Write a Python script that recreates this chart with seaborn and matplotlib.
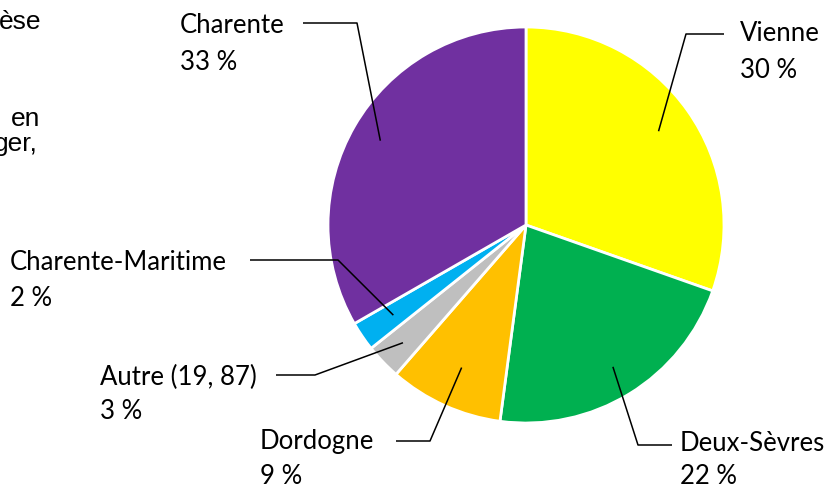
import numpy as np
import matplotlib
matplotlib.use("Agg")
import matplotlib.pyplot as plt
import seaborn as sns

# ---- data ----
regions = ["Vienne", "Deux-Sèvres", "Dordogne", "Autre (19, 87)", "Charente-Maritime", "Charente"]
shares = [30.4, 21.7, 9.3, 2.9, 2.4, 33.3]
pct_labels = ["30 %", "22 %", "9 %", "3 %", "2 %", "33 %"]
colors = ["#FFFF00", "#00B050", "#FFC000", "#BFBFBF", "#00B0F0", "#7030A0"]
side_text = ["èse", "en", "ger,"]

sns.set_theme(style="white")
plt.rcParams['font.family'] = ['Lato', 'DejaVu Sans']

W, H = 829, 488
fig = plt.figure(figsize=(W / 100, H / 100), dpi=100)
ax = fig.add_axes([0, 0, 1, 1])
ax.set_xlim(0, W)
ax.set_ylim(0, H)
ax.axis("off")

def py(y):
    return H - y

cx, cy, R = 526, 225, 198
wedges, _ = ax.pie(shares, colors=colors, startangle=90, counterclock=False,
                   center=(cx, py(cy)), radius=R, normalize=True,
                   wedgeprops=dict(edgecolor="white", linewidth=2.0))
ax.set_xlim(0, W)
ax.set_ylim(0, H)
ax.set_aspect("equal")

# layout of labels (pixel coords): elbow, line end, text x, baselines
layout = {
    "Vienne": dict(elbow=(686, 34), end=(724, 34), tx=740, b1=41, b2=78),
    "Deux-Sèvres": dict(elbow=(638, 445), end=(672, 445), tx=680, b1=451, b2=484),
    "Dordogne": dict(elbow=(430, 441), end=(396, 441), tx=260, b1=449, b2=484),
    "Autre (19, 87)": dict(elbow=(315, 375), end=(276, 375), tx=100, b1=385, b2=419),
    "Charente-Maritime": dict(elbow=(338, 260), end=(250, 260), tx=10, b1=270, b2=306),
    "Charente": dict(elbow=(357, 23), end=(303, 23), tx=180, b1=33, b2=70),
}
anchor_r = {"Vienne": 0.82, "Deux-Sèvres": 0.84, "Dordogne": 0.79,
            "Autre (19, 87)": 0.86, "Charente-Maritime": 0.81, "Charente": 0.85}

fs = 18.5
for w, name, pl in zip(wedges, regions, pct_labels):
    th = np.deg2rad((w.theta1 + w.theta2) / 2)
    r = anchor_r[name] * R
    axp = cx + r * np.cos(th)
    ayp = py(cy) + r * np.sin(th)
    L = layout[name]
    ax.plot([axp, L["elbow"][0], L["end"][0]],
            [ayp, py(L["elbow"][1]), py(L["end"][1])],
            color="black", lw=1.1, solid_capstyle="butt")
    ax.text(L["tx"], py(L["b1"]), name, fontsize=fs, color="#000000",
            ha="left", va="baseline")
    ax.text(L["tx"], py(L["b2"]), pl, fontsize=fs, color="#000000",
            ha="left", va="baseline")

# clipped text from the left
for t, (x, b) in zip(side_text, [(41, 29), (40, 126), (38, 151)]):
    ax.text(x, py(b), t, fontsize=19, family=["Liberation Sans", "DejaVu Sans"],
            ha="right", va="baseline", color="#000000")

fig.savefig("out.png", dpi=100)
